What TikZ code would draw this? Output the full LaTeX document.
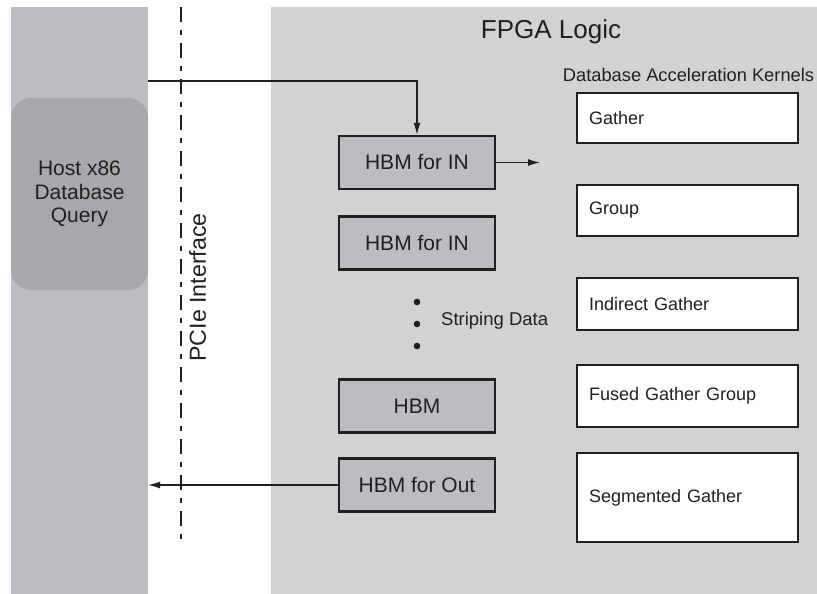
\documentclass[tikz,border=0pt]{standalone}
\usepackage{fontspec}
\setmainfont{Liberation Sans}
\usetikzlibrary{arrows.meta,positioning}
\definecolor{hostgray}{HTML}{BCBDC1}
\definecolor{querygray}{HTML}{A7A8AC}
\definecolor{fpgagray}{HTML}{D1D2D4}
\definecolor{inkdark}{HTML}{231F20}
\tikzset{
  query/.style={fill=querygray, rounded corners=20pt, minimum width=137pt, minimum height=192pt,
      inner sep=0pt, align=center, text=inkdark, font=\fontsize{21}{23.5}\selectfont},
  hbm/.style={draw=inkdark, fill=hostgray, line width=2.4pt, minimum width=156pt, minimum height=53pt,
      inner sep=0pt, text=inkdark, font=\fontsize{21}{24}\selectfont},
  kern/.style={draw=inkdark, fill=white, line width=2.4pt, text width=197pt, inner xsep=12pt,
      inner ysep=0pt, align=left, text=inkdark, font=\fontsize{18}{21}\selectfont},
  hdr/.style={text=inkdark, inner sep=0pt},
  link/.style={-{Latex[length=12pt,width=7pt]}, inkdark, line width=1.1pt},
  pcie/.style={inkdark, line width=1.2pt, dash pattern=on 15pt off 8pt on 5pt off 8pt},
}
\begin{document}
\begin{tikzpicture}[x=1pt, y=-1pt]
  \useasboundingbox (0,0) rectangle (817,594);
  % host side and fpga side
  \fill[hostgray] (11,7) rectangle (148,594);
  \fill[fpgagray] (271,7) rectangle (817,594);
  \node[query] (host) at (79.5,194) {Host x86\\Database\\Query};
  \draw[pcie] (181,7) -- (181,543);
  \node[hdr, rotate=90, font=\fontsize{23.2}{26}\selectfont] (pcielbl) at (197.5,287.5) {PCIe Interface};
  \node[hdr, font=\fontsize{26}{30}\selectfont] (fpga) at (551,32) {FPGA Logic};
  \node[hdr, font=\fontsize{18.3}{21}\selectfont] (kernhd) at (688.5,75) {Database Acceleration Kernels};
  % hbm stacks
  \node[hbm] (in1) at (417,162.5) {HBM for IN};
  \node[hbm] (in2) at (417,243) {HBM for IN};
  \node[hbm] (hbm) at (417,406) {HBM};
  \node[hbm] (out) at (417,485) {HBM for Out};
  \foreach \y in {302,324,346} \fill[inkdark] (417,\y) circle (3.3pt);
  \node[hdr, anchor=west, font=\fontsize{18.5}{21}\selectfont] (stripe) at (441,320.5) {Striping Data};
  % kernels
  \node[kern, minimum height=50pt] (gather) at (687.5,118) {Gather};
  \node[kern, minimum height=51pt] (group) at (687.5,210.5) {Group};
  \node[kern, minimum height=52pt] (indgather) at (687.5,304) {Indirect Gather};
  \node[kern, minimum height=62pt] (fused) at (687.5,396) {Fused Gather Group};
  \node[kern, minimum height=89pt] (seggather) at (687.5,497.5) {Segmented Gather};
  % data paths
  \coordinate (qry) at (148,81);
  \coordinate (kin) at (540,162.5);
  \draw[link] (qry) -| (in1.north);
  \draw[link] (in1.east) -- (kin);
  \draw[link] (out.west) -- (out.west -| host.east);
\end{tikzpicture}
\end{document}
